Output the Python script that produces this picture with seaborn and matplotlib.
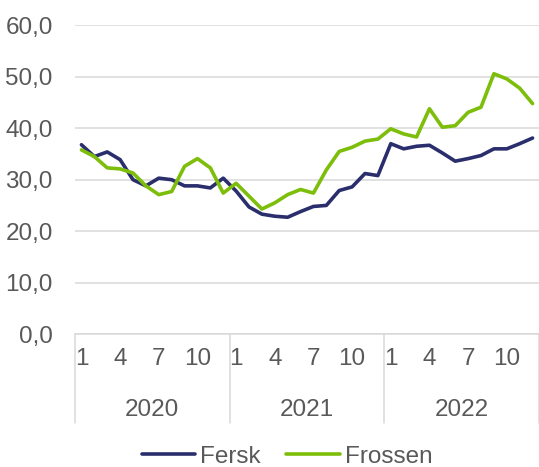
import numpy as np
import pandas as pd
import matplotlib.pyplot as plt
import matplotlib.transforms as mtransforms
from matplotlib.ticker import FuncFormatter
import seaborn as sns

# monthly values, Jan 2020 - Dec 2022
years = ["2020", "2021", "2022"]
month_ticks = [1, 4, 7, 10]
fersk = [36.8, 34.5, 35.4, 33.9, 30.0, 28.8, 30.3, 30.0, 28.8, 28.8, 28.4, 30.3,
         27.8, 24.7, 23.3, 22.9, 22.7, 23.8, 24.8, 25.0, 27.9, 28.6, 31.2, 30.8,
         37.0, 36.0, 36.5, 36.7, 35.2, 33.6, 34.1, 34.7, 36.0, 36.0, 37.0, 38.1]
frossen = [35.8, 34.5, 32.3, 32.1, 31.3, 28.8, 27.1, 27.7, 32.6, 34.1, 32.3, 27.4,
           29.3, 26.8, 24.3, 25.5, 27.1, 28.1, 27.4, 31.9, 35.5, 36.3, 37.5, 37.9,
           39.9, 38.9, 38.3, 43.8, 40.2, 40.5, 43.1, 44.1, 50.6, 49.6, 47.8, 44.8]
series_names = ["Fersk", "Frossen"]
colors = ["#2B2E6C", "#7DBE0A"]

n = len(fersk)
df = pd.DataFrame({
    "idx": list(range(n)) * 2,
    "verdi": fersk + frossen,
    "serie": [series_names[0]] * n + [series_names[1]] * n,
})

sns.set_theme(style="white")
plt.rcParams["font.family"] = ["Liberation Sans", "DejaVu Sans"]
text_col = "#595959"
grid_col = "#D9D9D9"
fs = 17.5

fig = plt.figure(figsize=(5.39, 4.67), dpi=100)
ax = fig.add_axes([75 / 539, 133 / 467, 464 / 539, 308.6 / 467])

sns.lineplot(data=df, x="idx", y="verdi", hue="serie", palette=colors,
             linewidth=2.6, ax=ax, legend=True)

ax.set_xlim(-0.5, n - 0.5)
ax.set_ylim(0, 60)
ax.set_yticks(range(0, 61, 10))
ax.yaxis.set_major_formatter(FuncFormatter(lambda v, p: f"{v:.1f}".replace(".", ",")))
ax.yaxis.grid(True, color=grid_col, linewidth=1.1)
ax.set_axisbelow(True)

# month ticks
pos = [12 * y + (m - 1) for y in range(len(years)) for m in month_ticks]
labs = [str(m) for y in years for m in month_ticks]
ax.set_xticks(pos)
ax.set_xticklabels(labs)
ax.tick_params(axis="x", length=0, pad=10, labelsize=fs, colors=text_col)
ax.tick_params(axis="y", length=0, pad=16, labelsize=fs, colors=text_col)

for s in ["top", "right", "left"]:
    ax.spines[s].set_visible(False)
ax.spines["bottom"].set_color(grid_col)
ax.spines["bottom"].set_linewidth(1.1)

ax.set_xlabel("")
ax.set_ylabel("")

# year groups and separators
trans = mtransforms.blended_transform_factory(ax.transData, ax.transAxes)
for k in range(len(years) + 1):
    xb = 12 * k - 0.5
    ax.plot([xb, xb], [0, -0.288], transform=trans, color=grid_col,
            linewidth=1.1, clip_on=False)
for k, yr in enumerate(years):
    ax.text(12 * k + 5.5, -0.245, yr, transform=trans, ha="center", va="center",
            fontsize=fs, color=text_col)

handles, labels = ax.get_legend_handles_labels()
ax.get_legend().remove()
fig.legend(handles, labels, loc="center", bbox_to_anchor=(287 / 539, 0.022),
           ncol=2, frameon=False, fontsize=fs, handlelength=2.2,
           handletextpad=0.2, columnspacing=1.05, labelcolor=text_col)

fig.savefig("out.png", dpi=100)
